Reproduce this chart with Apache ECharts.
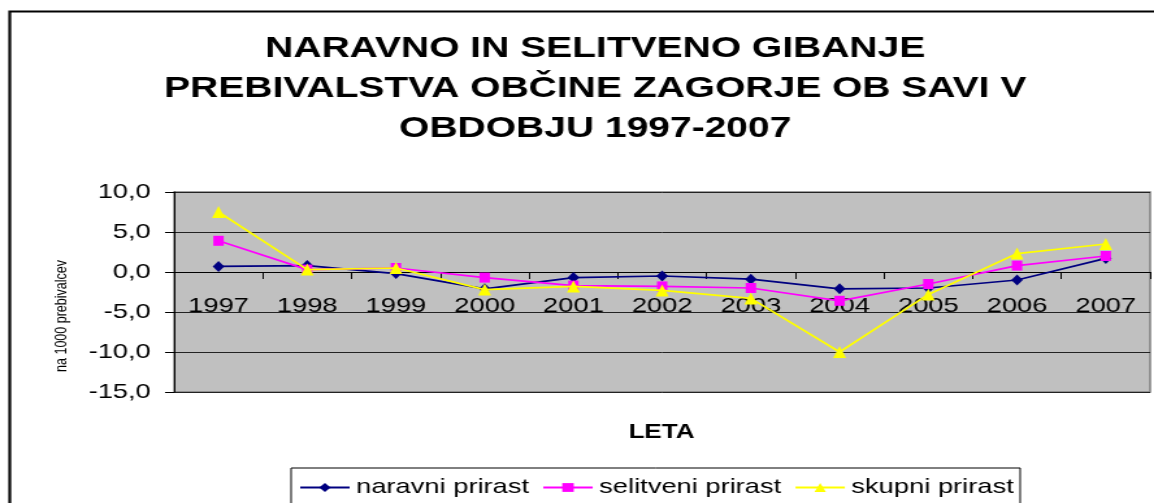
<!DOCTYPE html>
<html>
<head>
<meta charset="utf-8" />
<title>Gibanje prebivalstva</title>
<script src="https://cdn.jsdelivr.net/npm/echarts@6/dist/echarts.min.js"></script>
<style>
  html, body { margin: 0; padding: 0; background: #fff; overflow: hidden; }
  /* izvirna slika je vodoravno raztegnjena, zato graf raztegnemo s CSS */
  #main { width: 888px; height: 503px; transform: scaleX(1.2996); transform-origin: 0 0; }
</style>
</head>
<body>
<div id="main"></div>
<script>
// podatki (na 1000 prebivalcev)
var leta = ['1997', '1998', '1999', '2000', '2001', '2002', '2003', '2004', '2005', '2006', '2007'];
var naravni = [0.7, 0.8, -0.2, -2.1, -0.7, -0.5, -0.9, -2.1, -2.0, -1.0, 1.7];
var selitveni = [3.9, 0.3, 0.5, -0.7, -1.7, -1.8, -2.0, -3.6, -1.5, 0.8, 2.0];
var skupni = [7.5, 0.3, 0.5, -2.2, -1.8, -2.3, -3.3, -10.0, -2.8, 2.3, 3.5];
var yTicks = [-15, -10, -5, 0, 5, 10];

var font = '"Liberation Sans", Arial, sans-serif';
var chart = echarts.init(document.getElementById('main'));

chart.setOption({
  animation: false,
  backgroundColor: '#ffffff',
  title: {
    text: 'NARAVNO IN SELITVENO GIBANJE\nPREBIVALSTVA OBČINE ZAGORJE OB SAVI V\nOBDOBJU 1997-2007',
    left: 453,
    textAlign: 'center',
    top: 24,
    textStyle: {
      fontFamily: font,
      fontWeight: 'bold',
      fontSize: 30,
      lineHeight: 40,
      color: '#000'
    }
  },
  grid: {
    left: 134,
    right: 3,
    top: 192,
    bottom: 111,
    show: true,
    backgroundColor: '#c0c0c0',
    borderColor: '#808080',
    borderWidth: 1.5
  },
  legend: {
    left: 224,
    top: 468,
    padding: [9, 5, 12, 6],
    borderColor: '#000',
    borderWidth: 1,
    itemWidth: 38,
    itemHeight: 11,
    itemGap: 10,
    textStyle: { fontFamily: font, fontSize: 21, color: '#000' },
    data: ['naravni prirast', 'selitveni prirast', 'skupni prirast']
  },
  xAxis: {
    type: 'category',
    data: leta,
    boundaryGap: true,
    offset: -120,
    axisLine: { onZero: false, lineStyle: { color: '#000', width: 1 } },
    axisTick: { show: true, length: 7, lineStyle: { color: '#000' } },
    axisLabel: { fontFamily: font, fontSize: 21, color: '#000', margin: 24 },
    splitLine: { show: false }
  },
  yAxis: {
    type: 'value',
    min: yTicks[0],
    max: yTicks[yTicks.length - 1],
    interval: 5,
    axisLine: { show: true, lineStyle: { color: '#000', width: 1 } },
    axisTick: { show: true, length: 7, lineStyle: { color: '#000' } },
    axisLabel: {
      fontFamily: font, fontSize: 21, color: '#000', margin: 18,
      formatter: function (v) { return v.toFixed(1).replace('.', ','); }
    },
    splitLine: { show: true, lineStyle: { color: '#222', width: 1 } }
  },
  series: [
    {
      name: 'naravni prirast',
      type: 'line',
      data: naravni,
      symbol: 'diamond',
      symbolSize: [9, 11],
      color: '#000080',
      lineStyle: { width: 1.7, color: '#000080' },
      z: 3
    },
    {
      name: 'selitveni prirast',
      type: 'line',
      data: selitveni,
      symbol: 'rect',
      symbolSize: [8, 10],
      color: '#ff00ff',
      lineStyle: { width: 1.7, color: '#ff00ff' },
      z: 4
    },
    {
      name: 'skupni prirast',
      type: 'line',
      data: skupni,
      symbol: 'triangle',
      symbolSize: [10, 12],
      color: '#ffff00',
      lineStyle: { width: 1.7, color: '#ffff00' },
      z: 5
    }
  ],
  graphic: [
    {
      type: 'rect',
      left: 5, top: 9,
      shape: { width: 1000, height: 600 },
      style: { fill: 'none', stroke: '#000', lineWidth: 2.2 },
      silent: true
    },
    {
      type: 'text',
      x: 48, y: 316,
      rotation: Math.PI / 2,
      style: {
        text: 'na 1000 prebivalcev',
        font: '12.5px ' + font,
        fill: '#000',
        align: 'center',
        verticalAlign: 'middle'
      }
    },
    {
      type: 'text',
      x: 509, y: 432,
      style: {
        text: 'LETA',
        font: 'bold 20px ' + font,
        fill: '#000',
        align: 'center',
        verticalAlign: 'middle'
      }
    }
  ]
});
</script>
</body>
</html>
